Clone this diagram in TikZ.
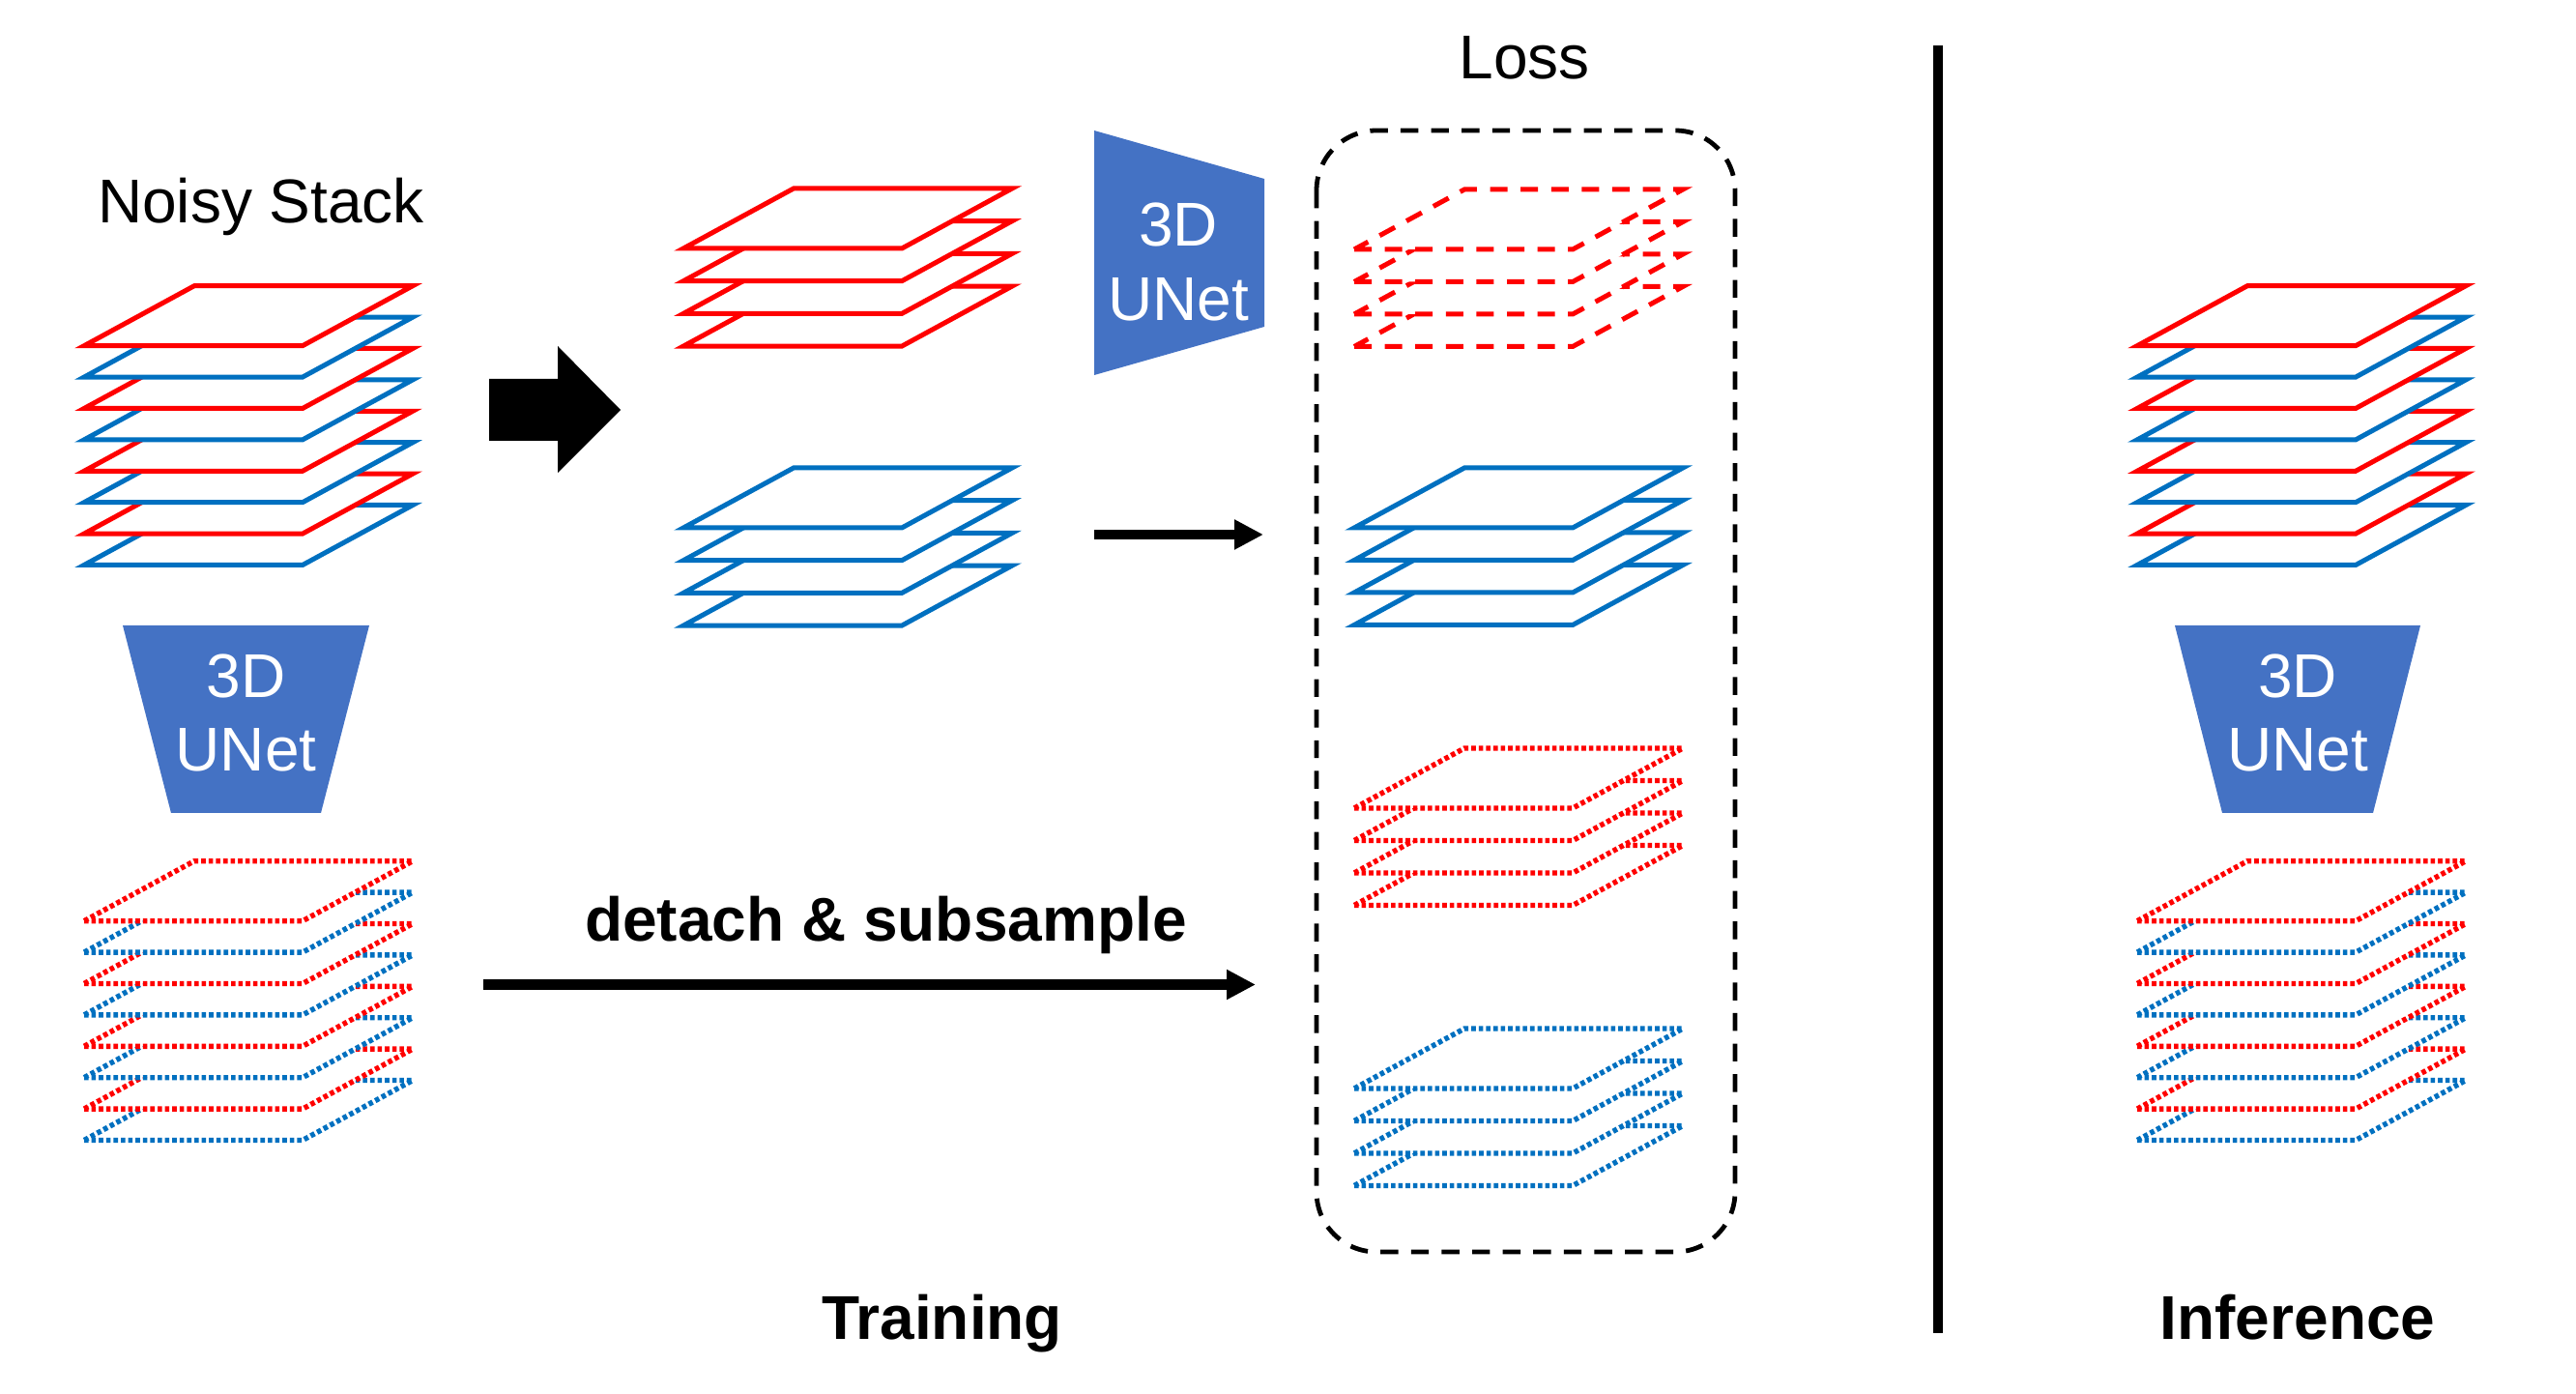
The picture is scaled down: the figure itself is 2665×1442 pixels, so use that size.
\documentclass[tikz,border=0pt]{standalone}
\usepackage{fontspec}
\setmainfont{Liberation Sans}
\usetikzlibrary{arrows.meta}
\definecolor{pred}{HTML}{FF0000}
\definecolor{pblue}{HTML}{0070C0}
\definecolor{unetblue}{HTML}{4472C4}
% one plate: bottom-left corner (x,y), style
\newcommand{\plt}[3]{\path[#3] (#1,#2) -- ++(226,0) -- ++(114,-62) -- ++(-226,0) -- cycle;}
% stack: x, y of top plate, list (bottom to top), spacing, style even, style odd
\newcommand{\pstack}[6]{%
  \foreach \k in {#3}{%
    \pgfmathsetmacro\yy{#2+#4*\k}%
    \ifodd\k\relax\plt{#1}{\yy}{#6}\else\plt{#1}{\yy}{#5}\fi}}
\begin{document}
\begin{tikzpicture}[x=0.25pt,y=-0.25pt,
  plate/.style={fill=white, line width=1.25pt, line join=miter},
  rsol/.style={plate, draw=pred},
  bsol/.style={plate, draw=pblue},
  rdot/.style={plate, draw=pred, line width=1.35pt, dash pattern=on 1.15pt off 0.75pt},
  bdot/.style={plate, draw=pblue, line width=1.35pt, dash pattern=on 1.15pt off 0.75pt},
  rdash/.style={plate, draw=pred, dash pattern=on 4.5pt off 3.4pt},
  lbl/.style={inner sep=0pt, anchor=base, font=\fontsize{16}{19}\selectfont},
  blbl/.style={inner sep=0pt, anchor=base, font=\fontsize{16}{19}\selectfont\bfseries},
  unettxt/.style={lbl, text=white},
  unet/.style={fill=unetblue},
  arr/.style={line width=2.7pt, -{Triangle[length=7.5pt,width=7.3pt]}},
  lossbox/.style={draw=black, line width=1.2pt, dash pattern=on 4.6pt off 3.3pt, rounded corners=15.5pt},
]
\path[use as bounding box] (0,0) rectangle (2665,1442);

% ---------- labels ----------
\node[lbl] (noisy) at (270,231) {Noisy Stack};
\node[lbl] (loss) at (1577,82) {Loss};
\node[blbl] (detach) at (916.5,973) {detach \& subsample};
\node[blbl] (training) at (974.5,1385) {Training};
\node[blbl] (inference) at (2377,1385) {Inference};

% ---------- left side ----------
\pstack{87}{357.7}{7,6,...,0}{32.4}{rsol}{bsol}
\path[unet] (127,647) -- (382,647) -- (332,841) -- (177,841) -- cycle;
\node[unettxt] (u1a) at (254.5,722) {3D};
\node[unettxt] (u1b) at (254.5,798) {UNet};
\pstack{87}{952.7}{7,6,...,0}{32.4}{rdot}{bdot}

% big block arrow
\path[fill=black] (506,392) -- (577,392) -- (577,358) -- (642,424) -- (577,489) -- (577,456) -- (506,456) -- cycle;

% middle stacks
\pstack{707}{257}{3,2,...,0}{33.7}{rsol}{rsol}
\pstack{707}{546}{3,2,...,0}{33.7}{bsol}{bsol}

% top UNet
\path[unet] (1132,135) -- (1308,185) -- (1308,338) -- (1132,388) -- cycle;
\node[unettxt] (u2a) at (1219,255) {3D};
\node[unettxt] (u2b) at (1219,332) {UNet};

% small arrow
\coordinate (s1) at (1132,553);
\coordinate (s2) at (1307,553);
\draw[arr] (s1) -- (s2);

% long arrow
\coordinate (l1) at (500,1018.5);
\coordinate (l2) at (1299,1018.5);
\draw[arr] (l1) -- (l2);

% loss box
\draw[lossbox] (1362,135) rectangle (1795,1295);
\pstack{1401}{258}{3,2,...,0}{33.5}{rdash}{rdash}
\pstack{1401}{546}{3,2,...,0}{33.5}{bsol}{bsol}
\pstack{1401}{836}{3,2,...,0}{33.5}{rdot}{rdot}
\pstack{1401}{1126}{3,2,...,0}{33.5}{bdot}{bdot}

% separator
\coordinate (v1) at (2005,47);
\coordinate (v2) at (2005,1379);
\draw[line width=2.4pt] (v1) -- (v2);

% ---------- right side (inference) ----------
\pstack{2211}{357.7}{7,6,...,0}{32.4}{rsol}{bsol}
\path[unet] (2250,647) -- (2504,647) -- (2455,841) -- (2299,841) -- cycle;
\node[unettxt] (u3a) at (2377,722) {3D};
\node[unettxt] (u3b) at (2377,798) {UNet};
\pstack{2211}{952.7}{7,6,...,0}{32.4}{rdot}{bdot}
\end{tikzpicture}
\end{document}
